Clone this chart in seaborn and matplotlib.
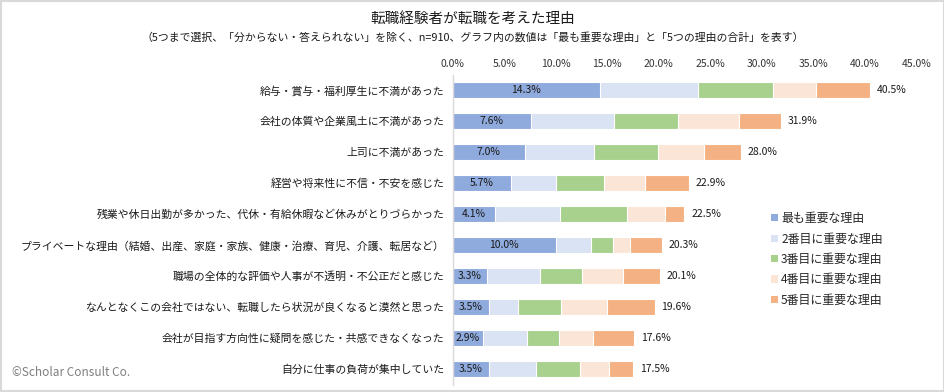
import numpy as np
import pandas as pd
import matplotlib
matplotlib.use('Agg')
import matplotlib.pyplot as plt
import seaborn as sns
from matplotlib.patches import Patch, Rectangle
from matplotlib.ticker import FuncFormatter

# 理由（上から順）
reasons = [
    '給与・賞与・福利厚生に不満があった',
    '会社の体質や企業風土に不満があった',
    '上司に不満があった',
    '経営や将来性に不信・不安を感じた',
    '残業や休日出勤が多かった、代休・有給休暇など休みがとりづらかった',
    'プライベートな理由（結婚、出産、家庭・家族、健康・治療、育児、介護、転居など）',
    '職場の全体的な評価や人事が不透明・不公正だと感じた',
    'なんとなくこの会社ではない、転職したら状況が良くなると漠然と思った',
    '会社が目指す方向性に疑問を感じた・共感できなくなった',
    '自分に仕事の負荷が集中していた',
]

# 各順位の割合(%)
rank1 = [14.3, 7.6, 7.0, 5.7, 4.1, 10.0, 3.3, 3.5, 2.9, 3.5]
rank2 = [9.5, 8.1, 6.7, 4.3, 6.3, 3.4, 5.2, 2.8, 4.3, 4.6]
rank3 = [7.3, 6.2, 6.2, 4.7, 6.5, 2.2, 4.1, 4.2, 3.1, 4.3]
rank4 = [4.2, 5.9, 4.5, 4.0, 3.7, 1.6, 3.9, 4.5, 3.3, 2.8]
rank5 = [5.2, 4.1, 3.6, 4.2, 1.9, 3.1, 3.6, 4.6, 4.0, 2.3]
totals = [40.5, 31.9, 28.0, 22.9, 22.5, 20.3, 20.1, 19.6, 17.6, 17.5]

series_names = ['最も重要な理由', '2番目に重要な理由', '3番目に重要な理由',
                '4番目に重要な理由', '5番目に重要な理由']
colors = ['#8FAADC', '#DAE3F3', '#A9D18E', '#FBE5D6', '#F4B183']

df = pd.DataFrame({'理由': reasons, 'r1': rank1, 'r2': rank2, 'r3': rank3,
                   'r4': rank4, 'r5': rank5})
cols = ['r1', 'r2', 'r3', 'r4', 'r5']
cum = df[cols].cumsum(axis=1)

sns.set_style('white')
plt.rcParams['font.family'] = ['Noto Sans CJK JP', 'DejaVu Sans']
txt = '#1A1A1A'

fig = plt.figure(figsize=(9.45, 3.92), dpi=100)
ax = fig.add_axes([452.7 / 945, (392 - 384.5) / 392,
                   (916.2 - 452.7) / 945, (384.5 - 74.5) / 392])

# 積み上げ：累積値を後ろから描く
for i in range(4, -1, -1):
    sns.barplot(x=cum[cols[i]], y=df['理由'], orient='h', color=colors[i],
                width=0.5, edgecolor='white', linewidth=0.8, saturation=1,
                ax=ax)

# 最も重要な理由の数値
for i, v in enumerate(rank1):
    ax.text(v / 2, i, f'{v:.1f}%', ha='center', va='center', fontsize=7.5,
            color=txt)
# 合計
for i, t in enumerate(totals):
    ax.text(cum['r5'][i] + 0.65, i, f'{t:.1f}%', ha='left', va='center',
            fontsize=7.5, color=txt)

ax.set_xlim(0, 45)
ax.set_ylim(9.5, -0.5)
ax.set_xticks(np.arange(0, 45.1, 5))
ax.xaxis.set_major_formatter(FuncFormatter(lambda x, p: f'{x:.1f}%'))
ax.xaxis.tick_top()
ax.tick_params(axis='x', length=0, pad=4, labelsize=7.5, colors='#333333')
ax.tick_params(axis='y', length=0, pad=6, labelsize=7.8, colors=txt)
ax.set_xlabel('')
ax.set_ylabel('')
for s in ['top', 'right', 'bottom']:
    ax.spines[s].set_visible(False)
ax.spines['left'].set_color('#D9D9D9')
ax.spines['left'].set_linewidth(1)

# 凡例
handles = [Patch(facecolor=c, edgecolor='none') for c in colors]
fig.legend(handles, series_names, loc='upper left',
           bbox_to_anchor=(765 / 945, 1 - 206 / 392), frameon=False,
           fontsize=8.6, handlelength=0.55, handleheight=0.55,
           handletextpad=0.3, labelspacing=0.62, borderpad=0)

fig.text(473 / 945, 1 - 19 / 392, '転職経験者が転職を考えた理由', ha='center',
         va='center', fontsize=10.5, color=txt)
fig.text(473 / 945, 1 - 37 / 392,
         '（5つまで選択、「分からない・答えられない」を除く、n=910、グラフ内の数値は「最も重要な理由」と「5つの理由の合計」を表す）',
         ha='center', va='center', fontsize=7.8, color=txt)
fig.text(12 / 945, 1 - 373 / 392, '©Scholar Consult Co.', ha='left',
         va='center', fontsize=8.5, color='#7F7F7F')

# 外枠
fig.patches.append(Rectangle((0.001, 0.002), 0.998, 0.996, transform=fig.transFigure,
                             fill=False, edgecolor='#D9D9D9', linewidth=1.5))

fig.savefig('out.png', dpi=100)
